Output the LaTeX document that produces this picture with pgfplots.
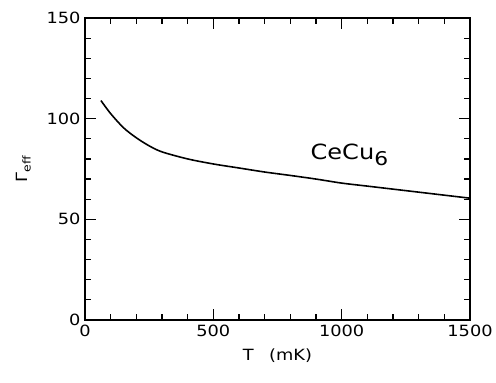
\documentclass[border=0pt]{standalone}
\usepackage{pgfplots}
\pgfplotsset{compat=1.18}
\usepackage{fontspec}
\setmainfont{DejaVu Sans}[FakeStretch=1.15]
\begin{document}
\begin{tikzpicture}
\begin{axis}[
  scale only axis,
  width=385bp, height=302bp,
  xmin=0, xmax=1500, ymin=0, ymax=150,
  xtick={0,500,1000,1500}, ytick={0,50,100,150},
  minor xtick={100,200,...,1400}, minor ytick={10,20,...,140},
  tick align=inside,
  major tick length=11bp, minor tick length=6bp,
  every tick/.style={black, line width=1.2pt},
  axis line style={line width=1.6pt},
  /pgf/number format/assume math mode=true,
  /pgf/number format/set thousands separator={},
  ticklabel style={font=\fontsize{15.5}{17}\selectfont},
  xticklabel style={yshift=-2bp},
  yticklabel style={xshift=-1bp},
  xlabel={T\quad(mK)},
  ylabel={Γ\textsubscript{eff}},
  label style={font=\fontsize{15.5}{17}\selectfont},
  xlabel style={yshift=-5bp},
  ylabel style={yshift=9bp},
  clip=false,
]
\addplot[black, line width=1.6pt, smooth] coordinates {
(62,109) (100,102.5) (150,95.5) (200,90.5) (250,86.5) (300,83.5) (400,80)
(500,77.5) (600,75.5) (700,73.5) (800,71.8) (900,70) (1000,68) (1100,66.5)
(1200,65) (1300,63.5) (1400,62) (1500,60.5)
};
\node[font=\fontsize{21}{24}\selectfont] at (axis cs:1030,82) {CeCu\raisebox{-0.3em}{\fontsize{19}{22}\selectfont 6}};
\coordinate (bl) at (rel axis cs:-0.2208,-0.2053);
\coordinate (tr) at (rel axis cs:1.0675,1.0596);
\end{axis}
\pgfresetboundingbox
\useasboundingbox (bl) rectangle (tr);
\end{tikzpicture}
\end{document}
